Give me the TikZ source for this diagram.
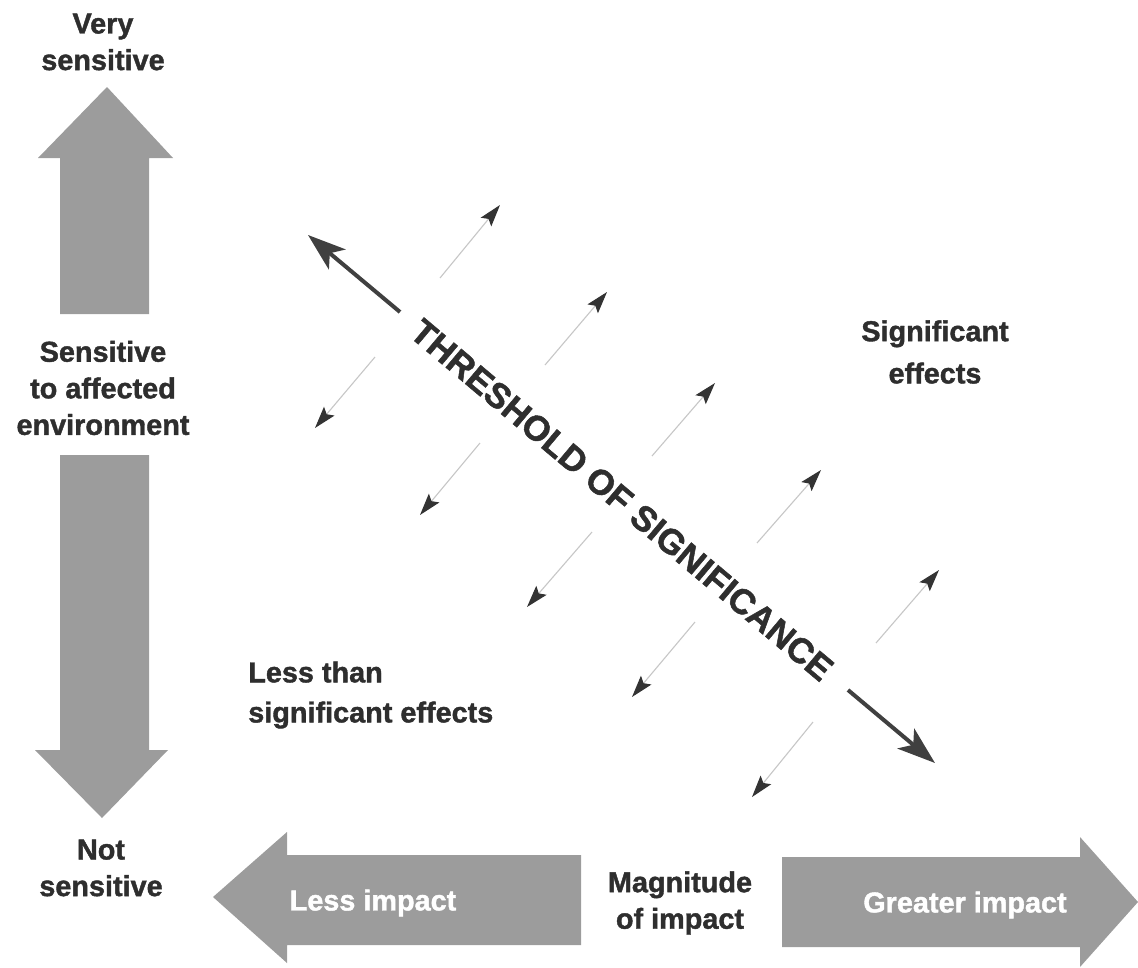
\documentclass[tikz,border=0pt]{standalone}
\usepackage{fontspec}
\setmainfont{Liberation Sans}[BoldFeatures={FakeBold=1.4}]
\usetikzlibrary{arrows.meta}
\begin{document}
\begin{tikzpicture}[x=0.25mm,y=-0.25mm,
  lbl/.style={font=\fontsize{20.5}{26}\selectfont\bfseries, text=black!82, align=center, inner sep=0pt},
  wlbl/.style={font=\fontsize{20.5}{26}\selectfont\bfseries, text=white, inner sep=0pt},
  blk/.style={fill=black!39, draw=none},
  smallarrow/.style={draw=black!22, line width=0.28mm, -{Stealth[length=5.5mm,width=3.4mm,inset=1mm,color=black!80]}},
  bigline/.style={draw=black!75, line width=1mm, -{Stealth[length=9.5mm,width=6.5mm,inset=2.4mm]}},
]
\useasboundingbox (0,0) rectangle (1138,968);

% block arrows
\fill[blk] (107,87) -- (173,158) -- (149,158) -- (149,314) -- (60,314) -- (60,158) -- (38,158) -- cycle;
\fill[blk] (102,818) -- (168,750) -- (149,750) -- (149,455) -- (60,455) -- (60,750) -- (35,750) -- cycle;
\fill[blk] (213,897) -- (287,832) -- (287,855) -- (581,855) -- (581,945) -- (287,945) -- (287,963) -- cycle;
\fill[blk] (1138,902) -- (1080,837) -- (1080,857) -- (782,857) -- (782,947) -- (1080,947) -- (1080,967) -- cycle;

% labels
\node[lbl] (very) at (103,42) {Very\\sensitive};
\node[lbl] (sens) at (103,388) {Sensitive\\to affected\\environment};
\node[lbl] (nots) at (101,868) {Not\\sensitive};
\node[lbl, anchor=west, align=left, font=\fontsize{20.5}{28.5}\selectfont\bfseries] (less) at (248,695) {Less than\\significant effects};
\node[lbl, font=\fontsize{20.5}{30}\selectfont\bfseries] (sig) at (935,352) {Significant\\effects};
\node[lbl] (mag) at (680,903) {Magnitude\\of impact};
\node[wlbl] (lessimp) at (373,903) {Less impact};
\node[wlbl] (greatimp) at (965,905) {Greater impact};

% threshold
\node[lbl, rotate=-40.1, font=\fontsize{25}{30}\selectfont\bfseries] (thr) at (622,500) {THRESHOLD OF SIGNIFICANCE};
\coordinate (thA) at (308,235);
\coordinate (thB) at (400,312);
\coordinate (thC) at (848,690);
\coordinate (thD) at (935,763);
\draw[bigline] (thB) -- (thA);
\draw[bigline] (thC) -- (thD);

% small arrows up-right
\coordinate (u1a) at (440,278); \coordinate (u1b) at (500,205);
\coordinate (u2a) at (545,365); \coordinate (u2b) at (607,292);
\coordinate (u3a) at (652,456); \coordinate (u3b) at (715,383);
\coordinate (u4a) at (757,543); \coordinate (u4b) at (821,470);
\coordinate (u5a) at (876,643); \coordinate (u5b) at (939,570);
\foreach \i in {1,...,5} \draw[smallarrow] (u\i a) -- (u\i b);

% small arrows down-left
\coordinate (d1a) at (375,357); \coordinate (d1b) at (315,428);
\coordinate (d2a) at (480,443); \coordinate (d2b) at (420,515);
\coordinate (d3a) at (592,532); \coordinate (d3b) at (527,607);
\coordinate (d4a) at (695,622); \coordinate (d4b) at (632,697);
\coordinate (d5a) at (813,722); \coordinate (d5b) at (752,797);
\foreach \i in {1,...,5} \draw[smallarrow] (d\i a) -- (d\i b);
\end{tikzpicture}
\end{document}
